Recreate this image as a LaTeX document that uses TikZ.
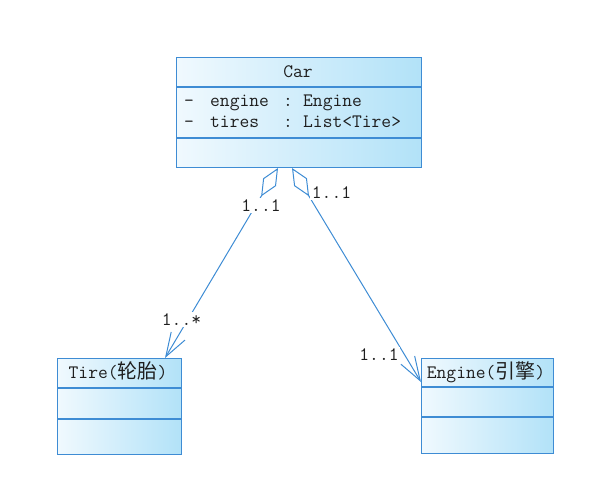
\documentclass[tikz,border=0pt]{standalone}
\usepackage{fontspec}
\newfontfamily\cjk[Scale=1.05]{Noto Sans CJK SC}
\usetikzlibrary{arrows.meta,calc}
\definecolor{umlblue}{RGB}{62,140,212}
\definecolor{shadeL}{RGB}{240,249,254}
\definecolor{shadeR}{RGB}{178,226,248}
\definecolor{txt}{RGB}{30,30,30}
\tikzset{
  compart/.style={draw=umlblue, line width=1pt, left color=shadeL, right color=shadeR,
    rectangle, inner sep=0pt, anchor=north west},
  txtnode/.style={inner sep=0pt, text=txt, anchor=base},
  mult/.style={inner sep=1.5pt, fill=white, text=txt, anchor=base},
  assoc/.style={draw=umlblue, line width=1pt,
    {Diamond[open, length=33pt, width=15pt, line width=1pt]}-{Straight Barb[length=24pt, width=16pt, line width=1pt]}}
}
\begin{document}
\begin{tikzpicture}[x=1pt, y=-1pt, font=\fontsize{19pt}{22pt}\selectfont\ttfamily]
\useasboundingbox (0,0) rectangle (601,483);
% Car
\node[compart, minimum width=245pt, minimum height=29.5pt] (carT) at (176,56.5) {};
\node[compart, minimum width=245pt, minimum height=50pt] (carA) at (carT.south west) {};
\node[compart, minimum width=245pt, minimum height=29pt] (carO) at (carA.south west) {};
\node[txtnode] (carName) at (298,77.5) {Car};
\node[txtnode, anchor=base west] (attr1) at (184,106) {\makebox[26pt][l]{-}\makebox[73pt][l]{engine}\makebox[20pt][l]{:}Engine};
\node[txtnode, anchor=base west] (attr2) at (184,127) {\makebox[26pt][l]{-}\makebox[73pt][l]{tires}\makebox[20pt][l]{:}List<Tire>};
% Tire
\node[compart, minimum width=124pt, minimum height=29pt] (tireT) at (57,358) {};
\node[compart, minimum width=124pt, minimum height=30pt] (tireA) at (tireT.south west) {};
\node[compart, minimum width=124pt, minimum height=35pt] (tireO) at (tireA.south west) {};
\node[txtnode] (tireName) at (118,378) {Tire({\cjk 轮胎})};
% Engine
\node[compart, minimum width=132pt, minimum height=28.5pt] (engT) at (421,357.5) {};
\node[compart, minimum width=132pt, minimum height=29pt] (engA) at (engT.south west) {};
\node[compart, minimum width=132pt, minimum height=36pt] (engO) at (engA.south west) {};
\node[txtnode] (engName) at (486,378.3) {Engine({\cjk 引擎})};
% connector ends
\coordinate (cL) at ($(carO.south west)+(102,0)$);
\coordinate (cR) at ($(carO.south west)+(116,0)$);
\coordinate (tTip) at ($(tireT.north west)+(108,0)$);
\coordinate (eTip) at ($(engT.north west)+(0,24.5)$);
\draw[assoc] (cL) -- (tTip);
\draw[assoc] (cR) -- (eTip);
% multiplicities
\node[mult] (m1) at (261,211.5) {1..1};
\node[mult] (m2) at (181.5,325) {1..*};
\node[mult] (m3) at (331.5,198) {1..1};
\node[mult] (m4) at (379,360) {1..1};
\end{tikzpicture}
\end{document}
